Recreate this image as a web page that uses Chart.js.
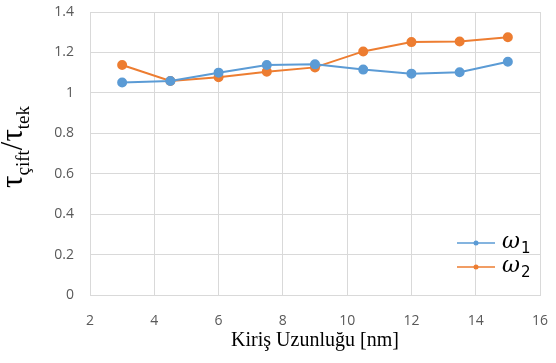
<!DOCTYPE html>
<html>
<head>
<meta charset="utf-8">
<script src="https://cdn.jsdelivr.net/npm/chart.js@4"></script>
<style>
  body { margin: 0; background: #fff; }
  canvas { display: block; }
</style>
</head>
<body>
<canvas id="chart" width="556" height="363"></canvas>
<script>
// kiriş uzunluğu [nm]
const lengths = [3, 4.5, 6, 7.5, 9, 10.5, 12, 13.5, 15];
const omega1 = [1.051, 1.059, 1.100, 1.138, 1.141, 1.115, 1.095, 1.102, 1.154];
const omega2 = [1.138, 1.059, 1.077, 1.105, 1.126, 1.205, 1.251, 1.254, 1.275];
const seriesNames = ['1', '2']; // ω alt indisleri

const blue = '#5b9bd5';
const orange = '#ed7d31';

function pts(arr) {
  return lengths.map((x, i) => ({ x: x, y: arr[i] }));
}

// y ekseni başlığı: τ_çift / τ_tek
const yTitlePlugin = {
  id: 'yTitle',
  afterDraw(chart) {
    const ctx = chart.ctx;
    ctx.save();
    ctx.translate(22, 188);
    ctx.rotate(-Math.PI / 2);
    ctx.fillStyle = '#000';
    ctx.textBaseline = 'alphabetic';
    ctx.textAlign = 'left';
    const big = '31px "Liberation Serif"';
    const small = '19px "Liberation Serif"';
    let x = 0;
    const put = (t, f, dy) => {
      ctx.font = f;
      ctx.fillText(t, x, dy);
      x += ctx.measureText(t).width;
    };
    put('τ', big, 0);
    put('çift', small, 7);
    put('/', big, 0);
    put('τ', big, 0);
    put('tek', small, 7);
    ctx.restore();
  }
};

// gösterge: ω1, ω2
const legendPlugin = {
  id: 'omegaLegend',
  afterDraw(chart) {
    const ctx = chart.ctx;
    const items = [[blue, 243], [orange, 267]];
    ctx.save();
    items.forEach(([c, y], i) => {
      ctx.strokeStyle = c;
      ctx.lineWidth = 1.5;
      ctx.beginPath();
      ctx.moveTo(457, y);
      ctx.lineTo(495, y);
      ctx.stroke();
      ctx.fillStyle = c;
      ctx.beginPath();
      ctx.arc(476, y, 2.5, 0, Math.PI * 2);
      ctx.fill();
      ctx.fillStyle = '#000';
      ctx.textBaseline = 'alphabetic';
      ctx.font = 'italic 22px "DejaVu Serif"';
      ctx.fillText('ω', 502, y + 5);
      const w = ctx.measureText('ω').width;
      ctx.font = '15px "DejaVu Sans"';
      ctx.fillText(seriesNames[i], 502 + w + 1, y + 10);
    });
    ctx.restore();
  }
};

new Chart(document.getElementById('chart'), {
  type: 'scatter',
  data: {
    datasets: [
      {
        label: 'ω1',
        data: pts(omega1),
        showLine: true,
        borderColor: blue,
        backgroundColor: blue,
        borderWidth: 2,
        pointRadius: 4,
        pointHoverRadius: 4
      },
      {
        label: 'ω2',
        data: pts(omega2),
        showLine: true,
        borderColor: orange,
        backgroundColor: orange,
        borderWidth: 2,
        pointRadius: 4,
        pointHoverRadius: 4
      }
    ]
  },
  options: {
    responsive: false,
    animation: false,
    layout: { padding: 0 },
    plugins: {
      legend: { display: false },
      tooltip: { enabled: false }
    },
    scales: {
      x: {
        type: 'linear',
        min: 2,
        max: 16,
        afterFit: s => {
          s.height = 68;
          s.paddingLeft = 0;
          s.paddingRight = 16;
        },
        ticks: {
          stepSize: 2,
          padding: 18,
          color: '#595959',
          font: { family: 'Open Sans', size: 14 }
        },
        grid: { color: '#d9d9d9', drawTicks: false },
        border: { color: '#d9d9d9' },
        title: {
          display: true,
          text: 'Kiriş Uzunluğu [nm]',
          color: '#000',
          font: { family: 'Liberation Serif', size: 20 },
          padding: { top: 0, bottom: 10 }
        }
      },
      y: {
        min: 0,
        max: 1.4,
        afterFit: s => {
          s.width = 90;
          s.paddingTop = 12;
          s.paddingBottom = 0;
        },
        ticks: {
          stepSize: 0.2,
          padding: 16,
          color: '#595959',
          font: { family: 'Open Sans', size: 14 },
          callback: v => String(+v.toFixed(1))
        },
        grid: { color: '#d9d9d9', drawTicks: false },
        border: { color: '#d9d9d9' }
      }
    }
  },
  plugins: [yTitlePlugin, legendPlugin]
});
</script>
</body>
</html>
